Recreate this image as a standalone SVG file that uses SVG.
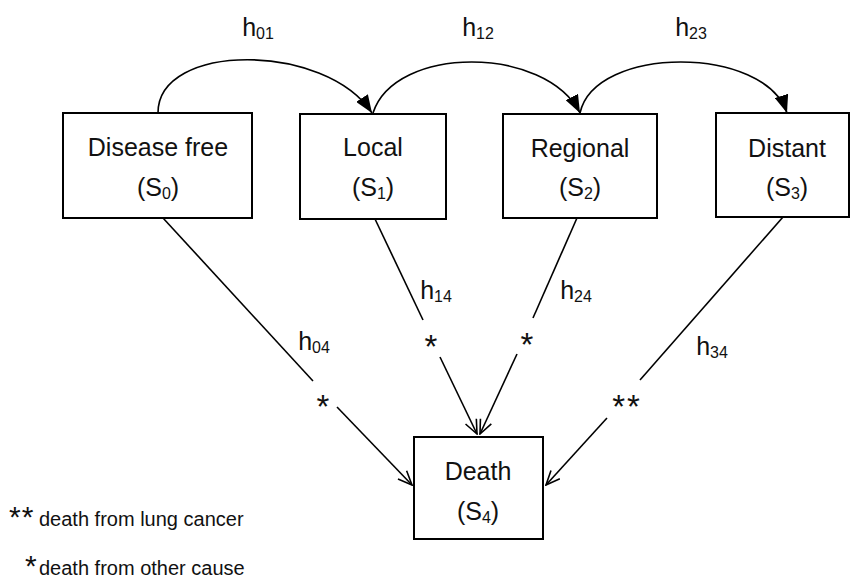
<svg xmlns="http://www.w3.org/2000/svg" width="851" height="581" viewBox="0 0 851 581">
<defs>
<style>
.box{fill:#fff;stroke:#000;stroke-width:2}
.t{font-family:"Liberation Sans",Arial,sans-serif;font-size:25px;fill:#111;text-anchor:middle}
.s{font-size:16px}
.ln{fill:none;stroke:#000;stroke-width:1.6}
.leg{font-family:"Liberation Sans",Arial,sans-serif;font-size:20px;fill:#111}
.st{font-family:"Liberation Sans",Arial,sans-serif;font-size:33px;fill:#111;text-anchor:middle}
</style>
<marker id="open" viewBox="0 0 16 14" refX="15" refY="7" markerWidth="16" markerHeight="14" markerUnits="userSpaceOnUse" orient="auto">
<path d="M1,1 L15,7 L1,13" fill="none" stroke="#000" stroke-width="1.6"/>
</marker>
<marker id="fill" viewBox="0 0 18 14" refX="18" refY="7" markerWidth="18" markerHeight="14" markerUnits="userSpaceOnUse" orient="auto">
<path d="M0,0 L18,7 L0,14 z" fill="#000"/>
</marker>
</defs>
<rect width="851" height="581" fill="#fff"/>

<g id="connectors">
<path class="ln" d="M158,113 C158,42 325,42 372,113" marker-end="url(#fill)"/>
<path class="ln" d="M373,113 C395,45 545,45 580,113" marker-end="url(#fill)"/>
<path class="ln" d="M580,113 C595,45 765,45 787,113" marker-end="url(#fill)"/>
<path class="ln" d="M163,218 L313,381"/>
<path class="ln" d="M337,407 L412,485" marker-end="url(#open)"/>
<path class="ln" d="M375,219 L423,320"/>
<path class="ln" d="M440,357 L477,434" marker-end="url(#open)"/>
<path class="ln" d="M577,218 L533,318"/>
<path class="ln" d="M517,354 L480,434" marker-end="url(#open)"/>
<path class="ln" d="M783,217 L640,380"/>
<path class="ln" d="M607,418 L546,485" marker-end="url(#open)"/>
<text class="t" x="258" y="36">h<tspan class="s" dy="3">01</tspan></text>
<text class="t" x="478" y="36">h<tspan class="s" dy="3">12</tspan></text>
<text class="t" x="691" y="36">h<tspan class="s" dy="3">23</tspan></text>
<text class="t" x="314" y="350">h<tspan class="s" dy="3">04</tspan></text>
<text class="t" x="436" y="299">h<tspan class="s" dy="3">14</tspan></text>
<text class="t" x="576" y="299">h<tspan class="s" dy="3">24</tspan></text>
<text class="t" x="712" y="355">h<tspan class="s" dy="3">34</tspan></text>
<text class="st" x="323" y="418">*</text>
<text class="st" x="431" y="358">*</text>
<text class="st" x="527" y="356">*</text>
<text class="st" x="627" y="418" letter-spacing="2">**</text>
</g>

<g id="s0">
<rect class="box" x="63" y="113" width="189" height="105"/>
<text class="t" x="158" y="156">Disease free</text>
<text class="t" x="158" y="196">(S<tspan class="s" dy="3">0</tspan><tspan dy="-3">)</tspan></text>
</g>
<g id="s1">
<rect class="box" x="300" y="114" width="146" height="105"/>
<text class="t" x="373" y="156">Local</text>
<text class="t" x="373" y="196">(S<tspan class="s" dy="3">1</tspan><tspan dy="-3">)</tspan></text>
</g>
<g id="s2">
<rect class="box" x="503" y="114" width="154" height="104"/>
<text class="t" x="580" y="157">Regional</text>
<text class="t" x="580" y="196">(S<tspan class="s" dy="3">2</tspan><tspan dy="-3">)</tspan></text>
</g>
<g id="s3">
<rect class="box" x="716" y="113" width="133" height="104"/>
<text class="t" x="787" y="157">Distant</text>
<text class="t" x="787" y="196">(S<tspan class="s" dy="3">3</tspan><tspan dy="-3">)</tspan></text>
</g>
<g id="s4">
<rect class="box" x="414" y="437" width="129" height="102"/>
<text class="t" x="478" y="480">Death</text>
<text class="t" x="478" y="520">(S<tspan class="s" dy="3">4</tspan><tspan dy="-3">)</tspan></text>
</g>

<g id="legend">
<text class="leg" x="39" y="526"><tspan x="9" y="527" font-size="30" letter-spacing="1">**</tspan><tspan x="39" y="526">death from lung cancer</tspan></text>
<text class="leg" x="39" y="575"><tspan x="25" y="576" font-size="30">*</tspan><tspan x="39" y="575">death from other cause</tspan></text>
</g>
</svg>
